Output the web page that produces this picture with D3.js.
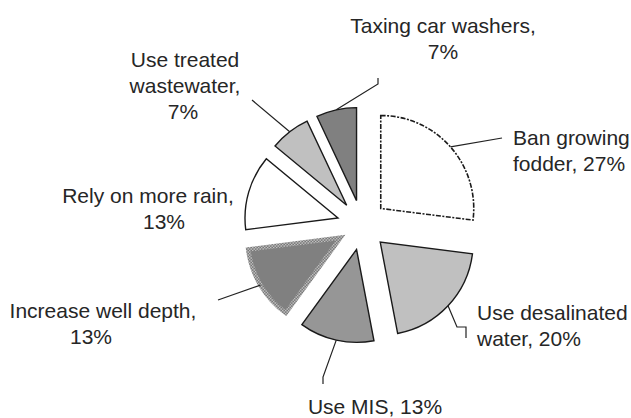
<!DOCTYPE html>
<html>
<head>
<meta charset="utf-8">
<script src="https://cdn.jsdelivr.net/npm/d3@7"></script>
<style>
  html, body { margin: 0; padding: 0; background: #fff; }
  svg { display: block; }
  text { font-family: "Liberation Sans", Arial, sans-serif; font-size: 21px; fill: #262626; }
</style>
</head>
<body>
<svg id="chart" width="631" height="418"></svg>
<script>
// ---- data ----
const categories = ["Ban growing fodder", "Use desalinated water", "Use MIS",
  "Increase well depth", "Rely on more rain", "Use treated wastewater", "Taxing car washers"];
const values = [27, 20, 13, 13, 13, 7, 7];
const labelLines = [
  ["Ban growing", "fodder, {p}"],
  ["Use desalinated", "water, {p}"],
  ["Use MIS, {p}"],
  ["Increase well depth,", "{p}"],
  ["Rely on more rain,", "{p}"],
  ["Use treated", "wastewater,", "{p}"],
  ["Taxing car washers,", "{p}"]
];

// ---- layout / style ----
const W = 631, H = 418;
const cx = 362, cy = 225, R = 93, explode = 25;
const styles = [
  { fill: "#ffffff", stroke: "#1a1a1a", width: 1.6, dash: "5,1.5,2,1.5" },
  { fill: "#c0c0c0", stroke: "#1a1a1a", width: 1.4 },
  { fill: "#969696", stroke: "#1a1a1a", width: 1.4 },
  { fill: "#808080", stroke: "url(#checker)", width: 4.5 },
  { fill: "#ffffff", stroke: "#1a1a1a", width: 1.4 },
  { fill: "#c0c0c0", stroke: "#1a1a1a", width: 1.4 },
  { fill: "#808080", stroke: "#1a1a1a", width: 1.4 }
];
// label placement: x, first baseline y, anchor, per-line dx, leader waypoints
const labelLayout = [
  { x: 513, y: 145, anchor: "start", dx: [0, 0], leader: [[502, 138]] },
  { x: 477, y: 320, anchor: "start", dx: [0, 0], leader: [[457, 327], [466, 327], [466, 338]] },
  { x: 375, y: 414, anchor: "middle", dx: [0], leader: [[323, 377], [323, 384]] },
  { x: 103, y: 318, anchor: "middle", dx: [0, -12], leader: [[218, 300]] },
  { x: 148, y: 203, anchor: "middle", dx: [0, 16], leader: null },
  { x: 185, y: 67, anchor: "middle", dx: [0, 0, -2], leader: [[252, 100]] },
  { x: 443, y: 33, anchor: "middle", dx: [0, 0], leader: [[378, 84], [378, 78]] }
];
const lineH = 26;

const svg = d3.select("#chart");
const defs = svg.append("defs");
const pat = defs.append("pattern").attr("id", "checker")
  .attr("width", 3).attr("height", 3).attr("patternUnits", "userSpaceOnUse");
pat.append("rect").attr("width", 3).attr("height", 3).attr("fill", "#ffffff");
pat.append("rect").attr("x", 0).attr("y", 0).attr("width", 1.5).attr("height", 1.5).attr("fill", "#333");
pat.append("rect").attr("x", 1.5).attr("y", 1.5).attr("width", 1.5).attr("height", 1.5).attr("fill", "#333");

const data = categories.map((c, i) => ({ category: c, value: values[i], i }));
const pie = d3.pie().sort(null).value(d => d.value).startAngle(0).endAngle(2 * Math.PI);
const arcs = pie(data);
const arc = d3.arc().innerRadius(0).outerRadius(R);

const g = svg.append("g").attr("transform", `translate(${cx},${cy})`);

function offsetOf(a) {
  const m = (a.startAngle + a.endAngle) / 2;
  return [Math.sin(m) * explode, -Math.cos(m) * explode];
}

// leader lines (drawn beneath slices)
const leaderG = svg.append("g");
arcs.forEach((a, i) => {
  const lay = labelLayout[i];
  if (!lay.leader) return;
  const m = (a.startAngle + a.endAngle) / 2;
  const [ox, oy] = offsetOf(a);
  const start = [cx + ox + Math.sin(m) * R, cy + oy - Math.cos(m) * R];
  const pts = [start].concat(lay.leader);
  leaderG.append("path")
    .attr("d", d3.line()(pts))
    .attr("fill", "none")
    .attr("stroke", "#222")
    .attr("stroke-width", 1.2);
});

g.selectAll("path.slice")
  .data(arcs)
  .join("path")
  .attr("class", "slice")
  .attr("transform", d => { const [ox, oy] = offsetOf(d); return `translate(${ox},${oy})`; })
  .attr("d", arc)
  .attr("fill", (d, i) => styles[i].fill)
  .attr("stroke", (d, i) => styles[i].stroke)
  .attr("stroke-width", (d, i) => styles[i].width)
  .attr("stroke-dasharray", (d, i) => styles[i].dash || null)
  .attr("stroke-linejoin", "miter");

// labels
const total = d3.sum(values);
arcs.forEach((a, i) => {
  const lay = labelLayout[i];
  const pct = Math.round(a.data.value / total * 100) + "%";
  const t = svg.append("text").attr("text-anchor", lay.anchor);
  labelLines[i].forEach((ln, k) => {
    t.append("tspan")
      .attr("x", lay.x + (lay.dx[k] || 0))
      .attr("y", lay.y + k * lineH)
      .text(ln.replace("{p}", pct));
  });
});
</script>
</body>
</html>
